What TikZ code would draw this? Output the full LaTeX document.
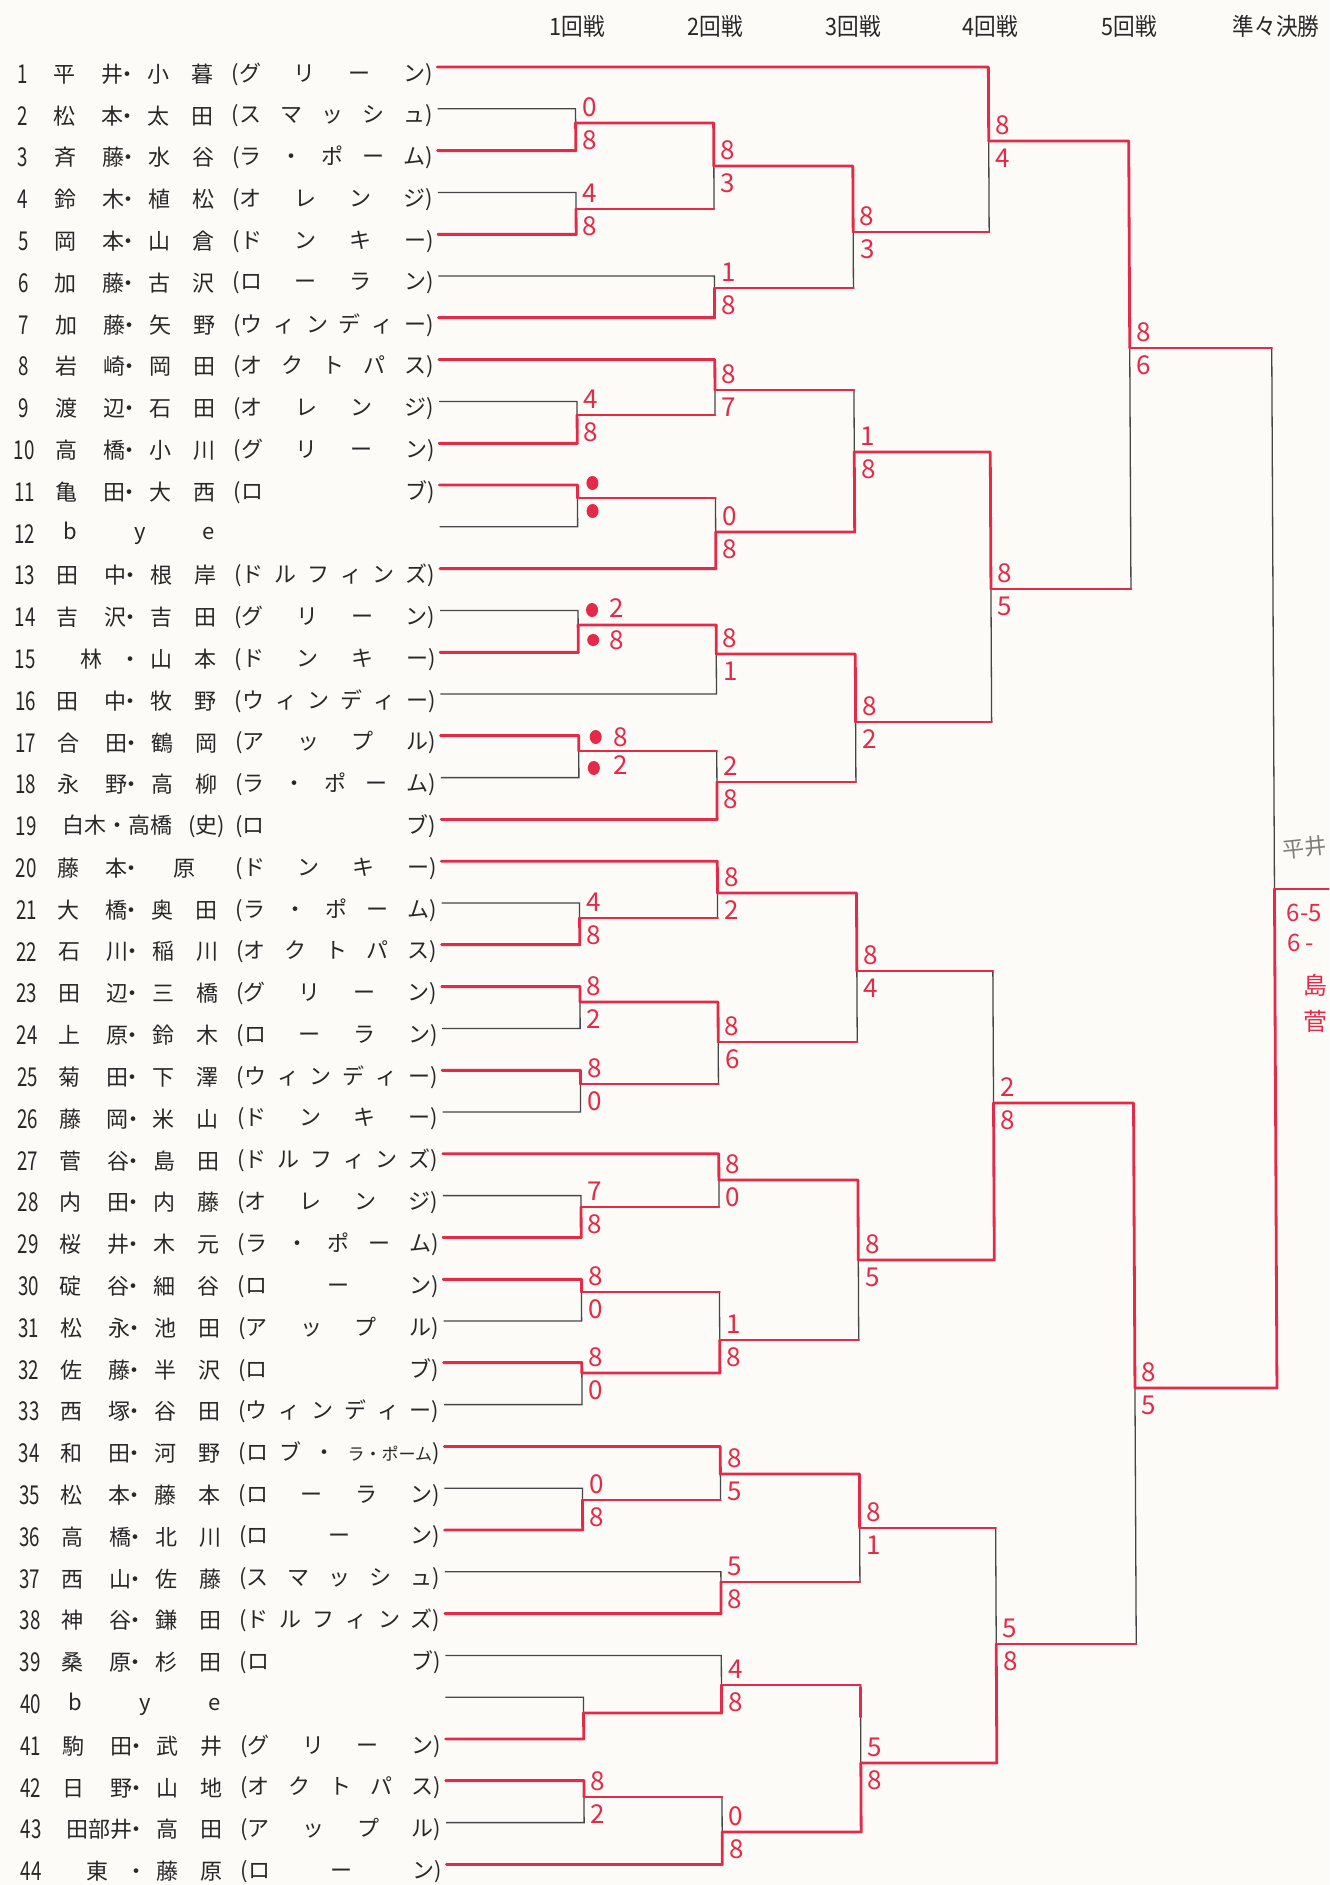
\documentclass[tikz,border=0pt]{standalone}
\usepackage{fontspec}
\usepackage{graphicx}
\setmainfont{Noto Sans CJK JP}
\definecolor{penred}{RGB}{228,42,72}
\definecolor{inkc}{RGB}{40,40,40}
\definecolor{linec}{RGB}{70,70,70}
\definecolor{paper}{RGB}{252,251,247}
\definecolor{pencil}{RGB}{125,125,125}
\newcommand\pn[2]{\makebox[35pt][s]{#1}\makebox[12pt][l]{\hspace{-3.5pt}・}\makebox[33pt][s]{#2}}
\newcommand\tm[1]{(\makebox[93pt][s]{#1})}
\newcommand\ypos[1]{67+(#1-1)*41.8}
\newcommand\trow[4]{%
  \node[numst] (n#1) at (22,{\ypos{#1}+7}) {\scalebox{0.72}[1]{#1}};
  \node[namest] (p#1) at (53,{\ypos{#1}+7}) {\pn{#2}{#3}};
  \node[teamst] (t#1) at (231,{\ypos{#1}+7}) {\tm{#4}};
  \coordinate (s#1) at (437,{\ypos{#1}});
}
\newcommand\mtn[5]{%
  \draw[bk] (#2) -- (#2 -| #1) -- (#3 -| #1) -- (#3);
  \draw[rd] (#4) -- (#4 -| #1) -- (#1);
  \draw[rd] (#5) -- (#5 -| #1);
}
\newcommand\mt[7]{%
  \mtn{#1}{#2}{#3}{#4}{#5}
  \node[sc] (#1t) at ([shift={(14,-16)}]#1) {#6};
  \node[sc] (#1b) at ([shift={(14,17)}]#1) {#7};
}
\begin{document}
\begin{tikzpicture}[x=0.5pt,y=-0.5pt,
  numst/.style={anchor=center,inner sep=0pt,text=inkc,font={\fontsize{13}{13}\selectfont}},
  namest/.style={anchor=west,inner sep=0pt,text=inkc,font={\fontsize{11}{13}\selectfont}},
  teamst/.style={anchor=west,inner sep=0pt,text=inkc,font={\fontsize{11}{13}\selectfont}},
  hd/.style={anchor=center,inner sep=0pt,text=inkc,font={\fontsize{12}{12}\selectfont}},
  bk/.style={draw=linec,line width=0.65pt},
  rd/.style={draw=penred,line width=1.4pt,line cap=round,line join=round},
  sc/.style={anchor=center,inner sep=0pt,text=penred,font={\fontsize{13}{13}\selectfont}},
  note/.style={anchor=west,inner sep=0pt,text=penred,font={\fontsize{12}{12}\selectfont}}]
\useasboundingbox (0,0) rectangle (1329,1885);
\fill[paper] (0,0) rectangle (1329,1885);
\begin{scope}[xslant=-0.005]
% headers
\node[hd] (h1) at (577,26) {\scalebox{0.9}[1]{1回戦}};
\node[hd] (h2) at (715,26) {\scalebox{0.9}[1]{2回戦}};
\node[hd] (h3) at (853,26) {\scalebox{0.9}[1]{3回戦}};
\node[hd] (h4) at (990,26) {\scalebox{0.9}[1]{4回戦}};
\node[hd] (h5) at (1129,26) {\scalebox{0.9}[1]{5回戦}};
\node[hd] (h6) at (1276,26) {\scalebox{0.9}[1]{準々決勝}};
% entries
\trow{1}{平 井}{小 暮}{グ リ ー ン}
\trow{2}{松 本}{太 田}{ス マ ッ シ ュ}
\trow{3}{斉 藤}{水 谷}{ラ ・ ポ ー ム}
\trow{4}{鈴 木}{植 松}{オ レ ン ジ}
\trow{5}{岡 本}{山 倉}{ド ン キ ー}
\trow{6}{加 藤}{古 沢}{ロ ー ラ ン}
\trow{7}{加 藤}{矢 野}{ウ ィ ン デ ィ ー}
\trow{8}{岩 崎}{岡 田}{オ ク ト パ ス}
\trow{9}{渡 辺}{石 田}{オ レ ン ジ}
\trow{10}{高 橋}{小 川}{グ リ ー ン}
\trow{11}{亀 田}{大 西}{ロ ブ}
\node[numst] (n12) at (22,{\ypos{12}+7}) {\scalebox{0.72}[1]{12}};
\node[namest] (p12) at (60,{\ypos{12}+7}) {\makebox[76pt][s]{b y e}};
\coordinate (s12) at (437,{\ypos{12}});
\trow{13}{田 中}{根 岸}{ド ル フ ィ ン ズ}
\trow{14}{吉 沢}{吉 田}{グ リ ー ン}
\trow{15}{\hfill 林\hfill}{山 本}{ド ン キ ー}
\trow{16}{田 中}{牧 野}{ウ ィ ン デ ィ ー}
\trow{17}{合 田}{鶴 岡}{ア ッ プ ル}
\trow{18}{永 野}{高 柳}{ラ ・ ポ ー ム}
\node[numst] (n19) at (22,{\ypos{19}+7}) {\scalebox{0.72}[1]{19}};
\node[namest] (p19) at (58,{\ypos{19}+7}) {白木・高橋\hspace{8pt}(史)};
\node[teamst] (t19) at (231,{\ypos{19}+7}) {\tm{ロ ブ}};
\coordinate (s19) at (437,{\ypos{19}});
\trow{20}{藤 本}{\hfill 原\hfill}{ド ン キ ー}
\trow{21}{大 橋}{奥 田}{ラ ・ ポ ー ム}
\trow{22}{石 川}{稲 川}{オ ク ト パ ス}
\trow{23}{田 辺}{三 橋}{グ リ ー ン}
\trow{24}{上 原}{鈴 木}{ロ ー ラ ン}
\trow{25}{菊 田}{下 澤}{ウ ィ ン デ ィ ー}
\trow{26}{藤 岡}{米 山}{ド ン キ ー}
\trow{27}{菅 谷}{島 田}{ド ル フ ィ ン ズ}
\trow{28}{内 田}{内 藤}{オ レ ン ジ}
\trow{29}{桜 井}{木 元}{ラ ・ ポ ー ム}
\trow{30}{碇 谷}{細 谷}{ロ ー ン}
\trow{31}{松 永}{池 田}{ア ッ プ ル}
\trow{32}{佐 藤}{半 沢}{ロ ブ}
\trow{33}{西 塚}{谷 田}{ウ ィ ン デ ィ ー}
\trow{34}{和 田}{河 野}{ロ ブ ・ {\fontsize{8.5}{8.5}\selectfont ラ・ポーム}}
\trow{35}{松 本}{藤 本}{ロ ー ラ ン}
\trow{36}{高 橋}{北 川}{ロ ー ン}
\trow{37}{西 山}{佐 藤}{ス マ ッ シ ュ}
\trow{38}{神 谷}{鎌 田}{ド ル フ ィ ン ズ}
\trow{39}{桑 原}{杉 田}{ロ ブ}
\node[numst] (n40) at (22,{\ypos{40}+7}) {\scalebox{0.72}[1]{40}};
\node[namest] (p40) at (60,{\ypos{40}+7}) {\makebox[76pt][s]{b y e}};
\coordinate (s40) at (437,{\ypos{40}});
\trow{41}{駒 田}{武 井}{グ リ ー ン}
\trow{42}{日 野}{山 地}{オ ク ト パ ス}
\trow{43}{\hfill 田部井}{高 田}{ア ッ プ ル}
\trow{44}{\hfill 東\hfill}{藤 原}{ロ ー ン}
% match points
\coordinate (M1) at (575,123);
\coordinate (M2) at (575,209);
\coordinate (M3) at (713,166);
\coordinate (M4) at (713,288);
\coordinate (M5) at (852,232);
\coordinate (M6) at (988,141);
\coordinate (M7) at (575,415);
\coordinate (M8) at (713,390);
\coordinate (M9) at (575,498);
\coordinate (M10) at (713,532);
\coordinate (M11) at (852,452);
\coordinate (M12) at (575,625);
\coordinate (M13) at (713,654);
\coordinate (M14) at (575,751);
\coordinate (M15) at (713,782);
\coordinate (M16) at (852,722);
\coordinate (M17) at (988,589);
\coordinate (M18) at (1128,348);
\coordinate (M19) at (575,918);
\coordinate (M20) at (713,893);
\coordinate (M21) at (575,1002);
\coordinate (M22) at (575,1084);
\coordinate (M23) at (713,1042);
\coordinate (M24) at (852,971);
\coordinate (M25) at (575,1207);
\coordinate (M26) at (713,1180);
\coordinate (M27) at (575,1292);
\coordinate (M28) at (575,1373);
\coordinate (M29) at (713,1340);
\coordinate (M30) at (852,1260);
\coordinate (M31) at (988,1103);
\coordinate (M32) at (575,1500);
\coordinate (M33) at (713,1474);
\coordinate (M34) at (713,1582);
\coordinate (M35) at (852,1528);
\coordinate (M36) at (575,1713);
\coordinate (M37) at (713,1685);
\coordinate (M38) at (575,1797);
\coordinate (M39) at (713,1832);
\coordinate (M40) at (852,1763);
\coordinate (M41) at (988,1644);
\coordinate (M42) at (1128,1388);
\coordinate (M43) at (1270,889);
\coordinate (fin) at (1324,889);
% matches
\mt{M1}{s2}{s3}{s3}{s3}{0}{8}
\mt{M2}{s4}{s5}{s5}{s5}{4}{8}
\mt{M3}{M1}{M2}{M1}{M2}{8}{3}
\mt{M4}{s6}{s7}{s7}{s7}{1}{8}
\mt{M5}{M3}{M4}{M3}{M4}{8}{3}
\mt{M6}{s1}{M5}{s1}{M5}{8}{4}
\mt{M7}{s9}{s10}{s10}{s10}{4}{8}
\mt{M8}{s8}{M7}{s8}{M7}{8}{7}
\mtn{M9}{s11}{s12}{s11}{s11}
\mt{M10}{M9}{s13}{s13}{M9}{0}{8}
\mt{M11}{M8}{M10}{M10}{M8}{1}{8}
\mtn{M12}{s14}{s15}{s15}{s15}
\mt{M13}{M12}{s16}{M12}{M12}{8}{1}
\mtn{M14}{s17}{s18}{s17}{s17}
\mt{M15}{M14}{s19}{s19}{M14}{2}{8}
\mt{M16}{M13}{M15}{M13}{M15}{8}{2}
\mt{M17}{M11}{M16}{M11}{M16}{8}{5}
\mt{M18}{M6}{M17}{M6}{M17}{8}{6}
\mt{M19}{s21}{s22}{s22}{s22}{4}{8}
\mt{M20}{s20}{M19}{s20}{M19}{8}{2}
\mt{M21}{s23}{s24}{s23}{s23}{8}{2}
\mt{M22}{s25}{s26}{s25}{s25}{8}{0}
\mt{M23}{M21}{M22}{M21}{M22}{8}{6}
\mt{M24}{M20}{M23}{M20}{M23}{8}{4}
\mt{M25}{s28}{s29}{s29}{s29}{7}{8}
\mt{M26}{s27}{M25}{s27}{M25}{8}{0}
\mt{M27}{s30}{s31}{s30}{s30}{8}{0}
\mt{M28}{s32}{s33}{s32}{s32}{8}{0}
\mt{M29}{M27}{M28}{M28}{M27}{1}{8}
\mt{M30}{M26}{M29}{M26}{M29}{8}{5}
\mt{M31}{M24}{M30}{M30}{M24}{2}{8}
\mt{M32}{s35}{s36}{s36}{s36}{0}{8}
\mt{M33}{s34}{M32}{s34}{M32}{8}{5}
\mt{M34}{s37}{s38}{s38}{s38}{5}{8}
\mt{M35}{M33}{M34}{M33}{M34}{8}{1}
\mtn{M36}{s40}{s41}{s41}{s41}
\mt{M37}{s39}{M36}{M36}{M36}{4}{8}
\mt{M38}{s42}{s43}{s42}{s42}{8}{2}
\mt{M39}{M38}{s44}{s44}{M38}{0}{8}
\mt{M40}{M37}{M39}{M39}{M37}{5}{8}
\mt{M41}{M35}{M40}{M40}{M35}{5}{8}
\mt{M42}{M31}{M41}{M31}{M41}{8}{5}
\mtn{M43}{M18}{M42}{M42}{M18}
\draw[rd] (M43) -- (fin);
\draw[rd] (M37 -| M40) ++(0,2) -- ++(0,30);
% scribbled scores
\fill[penred] ([shift={(15,-15)}]M9) ellipse [x radius=3pt, y radius=3.5pt];
\fill[penred] ([shift={(15,13)}]M9) ellipse [x radius=3pt, y radius=3.5pt];
\fill[penred] ([shift={(14,-15)}]M12) ellipse [x radius=3pt, y radius=3.5pt];
\fill[penred] ([shift={(15,15)}]M12) ellipse [x radius=3pt, y radius=3pt];
\node[sc] (M12t) at ([shift={(39,-17)}]M12) {2};
\node[sc] (M12b) at ([shift={(39,15)}]M12) {8};
\fill[penred] ([shift={(17,-14)}]M14) ellipse [x radius=3pt, y radius=3.5pt];
\fill[penred] ([shift={(15,17)}]M14) ellipse [x radius=3pt, y radius=3.5pt];
\node[sc] (M14t) at ([shift={(42,-14)}]M14) {8};
\node[sc] (M14b) at ([shift={(42,14)}]M14) {2};
% side notes
\node[anchor=west,inner sep=0pt,text=pencil,font={\fontsize{11}{11}\selectfont},rotate=6] (pen) at (1278,850) {平井};
\node[note] (nt1) at (1282,913) {6-5};
\node[note] (nt2) at (1282,943) {6 -};
\node[note] (nt3) at (1298,985) {島};
\node[note] (nt4) at (1298,1021) {菅};
\end{scope}
\end{tikzpicture}
\end{document}
